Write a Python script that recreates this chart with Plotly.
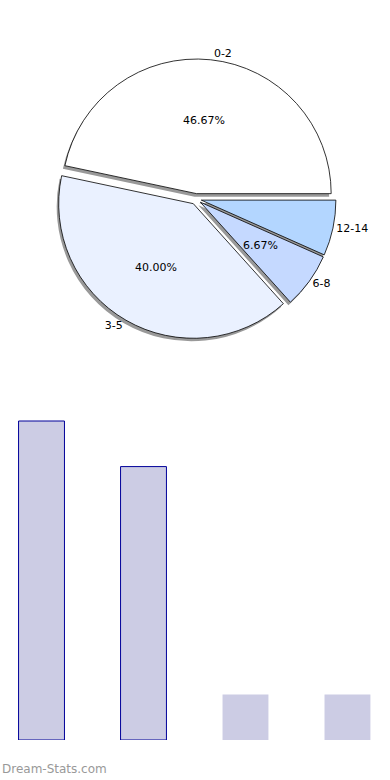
import math
import plotly.graph_objects as go

categories = ["0-2", "3-5", "6-8", "12-14"]
counts = [7, 6, 1, 1]
pct_labels = ["46.67%", "40.00%", "6.67%", ""]
slice_colors = ["#ffffff", "#eaf1ff", "#c5d9ff", "#b3d6ff"]
pulls = [0.04, 0.04, 0.04, 0.04]
bar_fill = "rgb(204,204,228)"
bar_edges = ["rgb(0,0,153)", "rgb(0,0,153)", "rgba(0,0,0,0)", "rgba(0,0,0,0)"]

W, H = 390, 780
cx, cy, half = 196, 199, 140
total = sum(counts)

# first slice starts at 3 o'clock and runs counterclockwise
rot = 90 - 360 * counts[0] / total

def dom(dx=0, dy=0):
    return dict(x=[(cx - half + dx) / W, (cx + half + dx) / W],
                y=[1 - (cy + half + dy) / H, 1 - (cy - half + dy) / H])

common = dict(labels=categories, values=counts, sort=False, direction="counterclockwise",
              rotation=rot, pull=pulls, showlegend=False)
clear = dict(colors=["rgba(0,0,0,0)"] * 4, line=dict(width=0))
tfont = dict(family="DejaVu Sans", size=11, color="black")

fig = go.Figure()
# shadow
fig.add_trace(go.Pie(**common, domain=dom(-2, 3),
                     marker=dict(colors=["#999999"] * 4, line=dict(width=0)),
                     textinfo="none", hoverinfo="skip"))
# main pie
fig.add_trace(go.Pie(**common, domain=dom(),
                     marker=dict(colors=slice_colors, line=dict(color="black", width=0.8)),
                     textinfo="none"))
# labels outside
fig.add_trace(go.Pie(**common, domain=dom(), marker=clear,
                     texttemplate="%{label}", textposition="outside",
                     textfont=tfont, hoverinfo="skip"))

# percentage labels at ~0.6 radius along each slice's mid-angle (autopct style)
r_px = half / (1 + max(pulls))
annotations = []
cum = 0
for lab, v, p in zip(pct_labels, counts, pulls):
    theta = math.radians(360 * (cum + v / 2) / total)
    cum += v
    if not lab:
        continue
    rr = (p + 0.55) * r_px
    px = cx + rr * math.cos(theta)
    py = cy - rr * math.sin(theta)
    annotations.append(dict(text=lab, x=px / W, y=1 - py / H, xref="paper", yref="paper",
                            xanchor="center", yanchor="middle", showarrow=False, font=tfont))

fig.add_trace(go.Bar(x=categories, y=counts, width=0.45,
                     marker=dict(color=bar_fill, line=dict(color=bar_edges, width=1)),
                     showlegend=False, xaxis="x", yaxis="y"))

annotations.append(dict(text="Dream-Stats.com", x=0, y=0, xref="paper", yref="paper",
                        xanchor="left", yanchor="bottom", yshift=2, showarrow=False,
                        font=dict(family="DejaVu Sans", size=12, color="#999999")))

fig.update_layout(
    width=W, height=H, margin=dict(l=0, r=0, t=0, b=0),
    paper_bgcolor="white", plot_bgcolor="white",
    xaxis=dict(domain=[0, 1], range=[-0.407, 3.417], visible=False),
    yaxis=dict(domain=[40 / H, 1 - 400 / H], range=[0, 340 / 45.57], visible=False),
    annotations=annotations,
)

fig.write_html("out.html")
